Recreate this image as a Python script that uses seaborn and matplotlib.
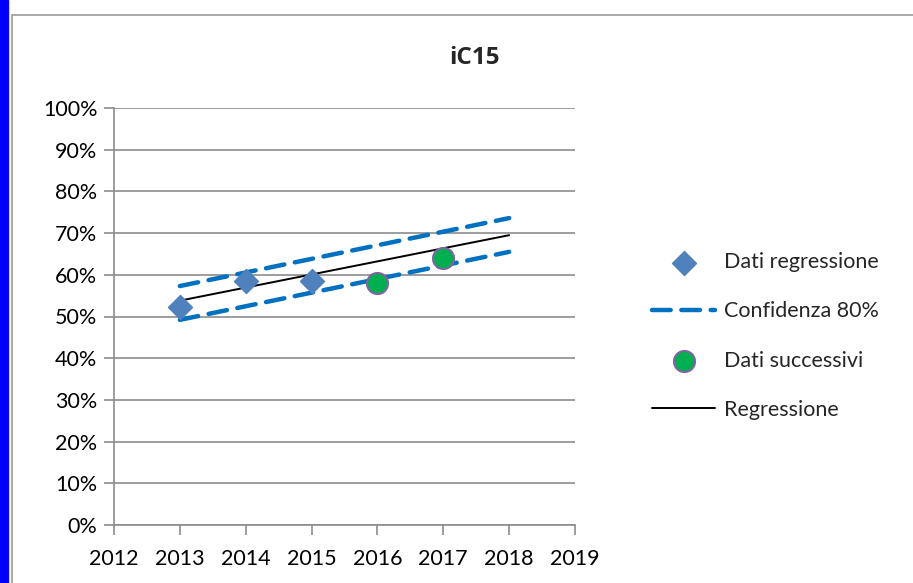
import matplotlib
matplotlib.use("Agg")
import matplotlib.pyplot as plt
import matplotlib.patches as mpatches
import seaborn as sns
import pandas as pd

# data
reg_years = [2013, 2014, 2015]
reg_vals = [0.523, 0.585, 0.585]
next_years = [2016, 2017]
next_vals = [0.580, 0.640]
line_years = [2013, 2018]
line_vals = [0.538, 0.695]
upper_vals = [0.573, 0.736]
lower_vals = [0.492, 0.655]

sns.set_style("white")
plt.rcParams['font.family'] = ['Lato', 'DejaVu Sans']

fig = plt.figure(figsize=(9.13, 5.83), dpi=100)
ax = fig.add_axes([114/913, 1 - 525/583, (575-114)/913, (525-108)/583])

# frame of the chart and blue bar on the left
fig.patches.append(mpatches.Rectangle((0, 0), 8/913, 1, transform=fig.transFigure,
                                      color="#0000ff", zorder=0))
fig.patches.append(mpatches.Rectangle((11.5/913, -0.1), 1.2, 1.1 - 15.5/583, transform=fig.transFigure,
                                      fill=False, edgecolor="#9a9a9a", lw=1.2, zorder=0))

df_reg = pd.DataFrame({"anno": reg_years, "val": reg_vals})
df_next = pd.DataFrame({"anno": next_years, "val": next_vals})
df_line = pd.DataFrame({"anno": line_years, "val": line_vals, "up": upper_vals, "lo": lower_vals})

dash = dict(color="#0070C0", lw=3.2, dashes=(4.2, 2.4), dash_capstyle="round")
sns.lineplot(data=df_line, x="anno", y="up", ax=ax, label="Confidenza 80%", zorder=2, **dash)
sns.lineplot(data=df_line, x="anno", y="lo", ax=ax, label="_nolegend_", zorder=2, **dash)
sns.lineplot(data=df_line, x="anno", y="val", ax=ax, color="black", lw=1.4, label="Regressione", zorder=3)
sns.scatterplot(data=df_reg, x="anno", y="val", ax=ax, marker="D", s=150, color="#4F81BD",
                edgecolor="#4F81BD", label="Dati regressione", zorder=4)
sns.scatterplot(data=df_next, x="anno", y="val", ax=ax, marker="o", s=230, color="#00B050",
                edgecolor="#8064A2", linewidth=1.5, label="Dati successivi", zorder=4)

ax.set_xlim(2012, 2019)
ax.set_ylim(0, 1)
ax.set_xticks(range(2012, 2020))
ax.set_yticks([i / 10 for i in range(11)])
ax.set_yticklabels([f"{i*10}%" for i in range(11)])
ax.set_xlabel("")
ax.set_ylabel("")
ax.grid(axis="y", color="#8c8c8c", lw=1.2)
ax.set_axisbelow(True)
for s in ["top", "right"]:
    ax.spines[s].set_visible(False)
for s in ["left", "bottom"]:
    ax.spines[s].set_color("#8c8c8c")
    ax.spines[s].set_linewidth(1.2)
ax.tick_params(axis="both", direction="out", length=7, width=1.2, color="#8c8c8c",
               labelsize=15.5, labelcolor="black", left=True, bottom=True)
ax.tick_params(axis="x", pad=10)
ax.tick_params(axis="y", pad=5)

fig.text(474/913, 1 - 58/583, "iC15", ha="center", va="center", fontsize=17.5,
         fontweight="bold", family=["Open Sans", "DejaVu Sans"])

h, l = ax.get_legend_handles_labels()
order = ["Dati regressione", "Confidenza 80%", "Dati successivi", "Regressione"]
hs = [h[l.index(o)] for o in order]
ax.legend(hs, order, loc="center left", bbox_to_anchor=(633/913, 1 - 336/583),
          bbox_transform=fig.transFigure, frameon=False, fontsize=15.5,
          labelspacing=1.35, handlelength=2.9, handletextpad=0.45)

fig.savefig("out.png", dpi=100)
